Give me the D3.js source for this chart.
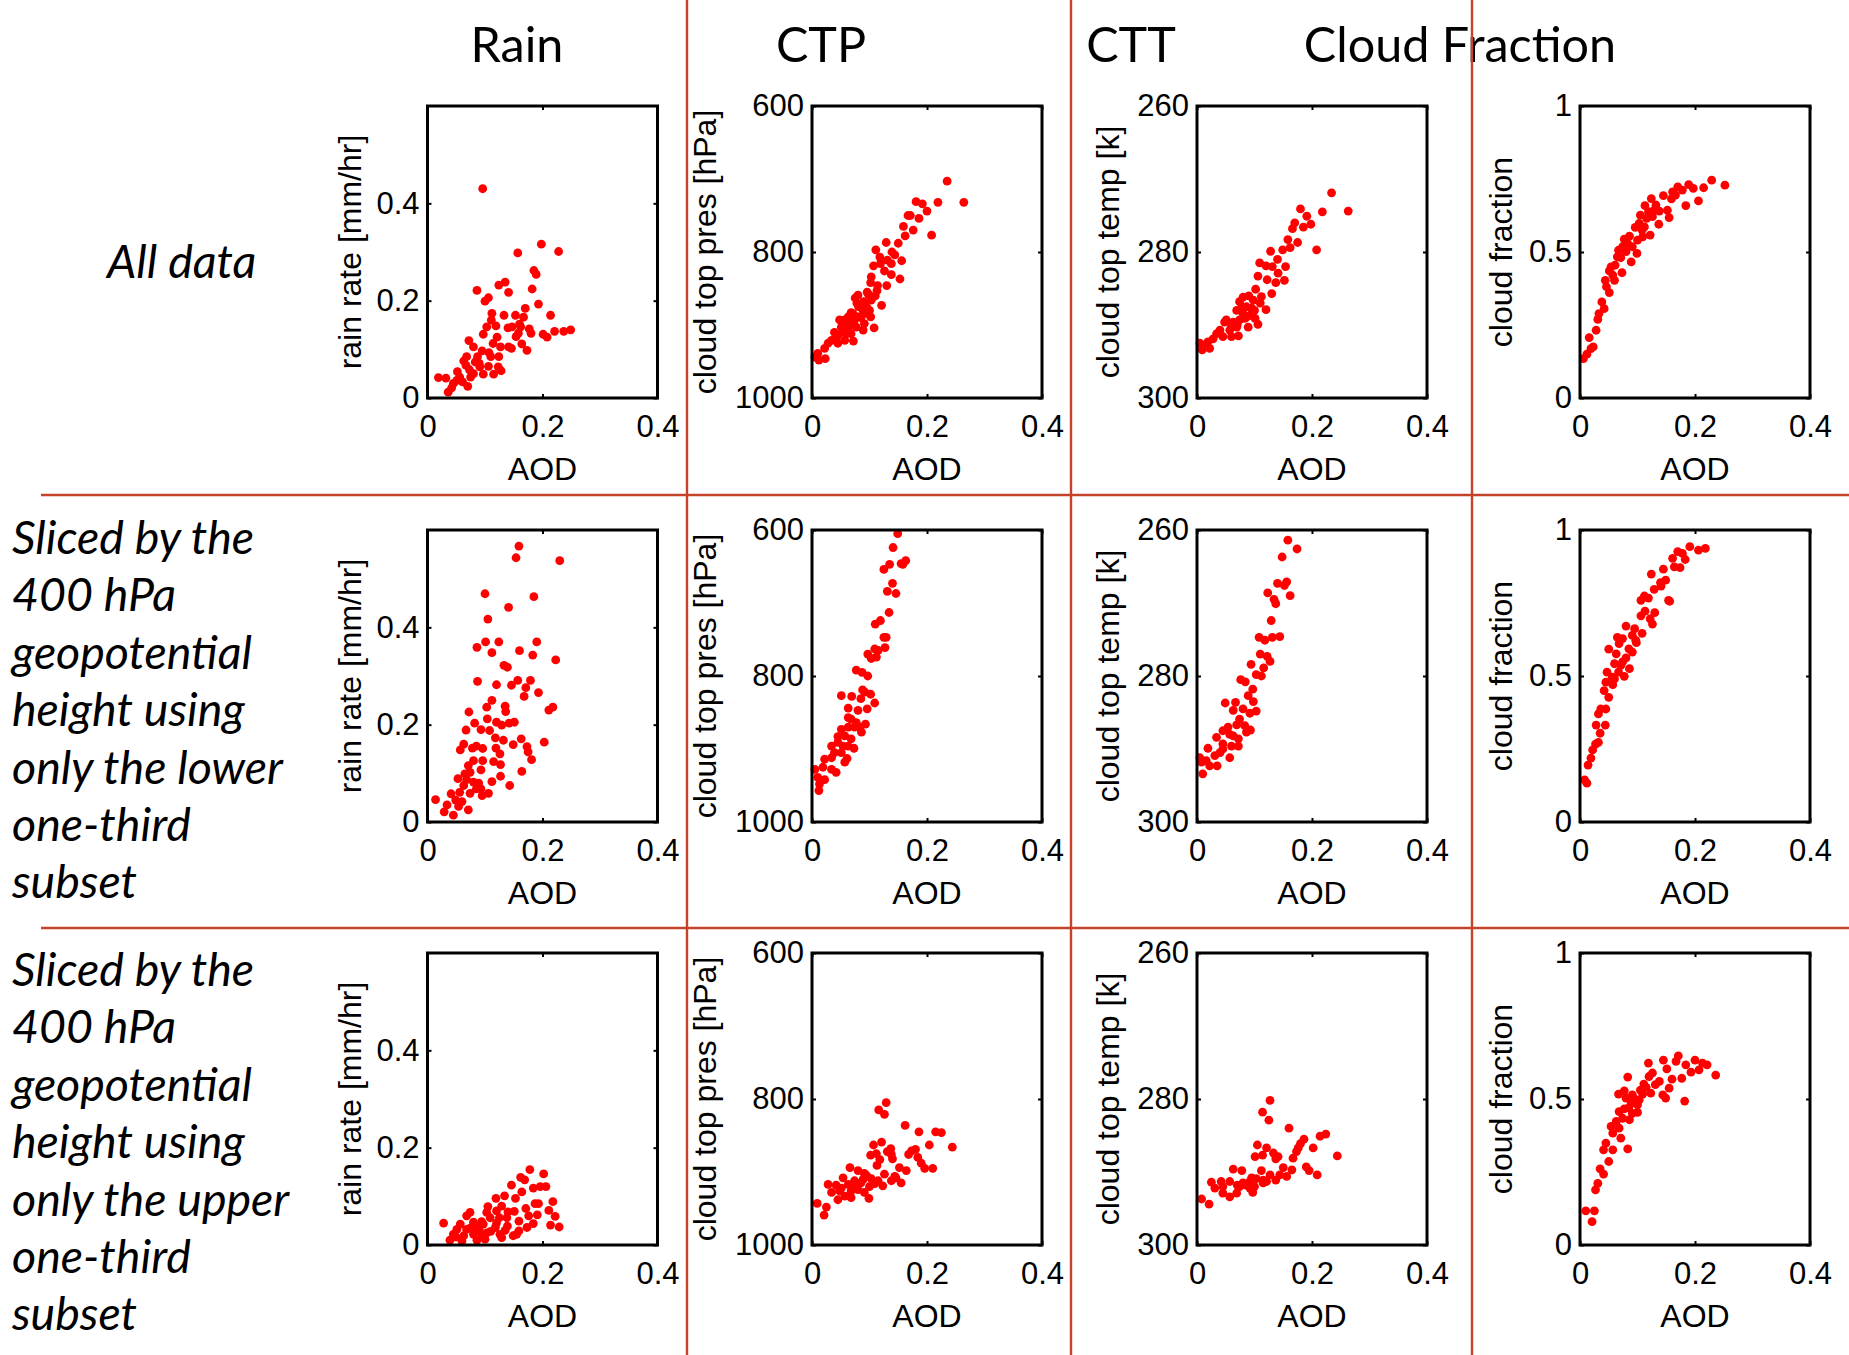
<!DOCTYPE html>
<html><head><meta charset="utf-8">
<script src="https://cdn.jsdelivr.net/npm/d3@7"></script>
<style>body{margin:0;background:#fff}svg{display:block}</style>
</head><body>
<script>
// ---- values: [AOD, variable] pairs for each subset and variable ----
const rainAll = [[0.096,0.430],[0.198,0.316],[0.228,0.301],[0.157,0.298],[0.185,0.262],[0.189,0.254],[0.086,0.221],[0.124,0.232],[0.135,0.238],[0.141,0.217],[0.182,0.224],[0.100,0.199],[0.106,0.206],[0.193,0.193],[0.112,0.174],[0.133,0.170],[0.153,0.170],[0.170,0.184],[0.167,0.166],[0.214,0.170],[0.111,0.160],[0.160,0.152],[0.103,0.146],[0.119,0.148],[0.140,0.144],[0.147,0.146],[0.162,0.146],[0.177,0.142],[0.180,0.133],[0.201,0.131],[0.208,0.125],[0.221,0.137],[0.237,0.137],[0.249,0.140],[0.097,0.131],[0.121,0.125],[0.154,0.126],[0.158,0.133],[0.072,0.118],[0.080,0.105],[0.114,0.112],[0.127,0.105],[0.141,0.105],[0.146,0.102],[0.164,0.111],[0.173,0.098],[0.095,0.097],[0.107,0.093],[0.068,0.085],[0.087,0.085],[0.110,0.085],[0.124,0.085],[0.063,0.076],[0.083,0.074],[0.091,0.064],[0.106,0.065],[0.123,0.064],[0.128,0.056],[0.052,0.054],[0.073,0.058],[0.080,0.050],[0.097,0.049],[0.115,0.049],[0.019,0.042],[0.032,0.041],[0.056,0.043],[0.075,0.043],[0.061,0.033],[0.045,0.030],[0.070,0.024],[0.042,0.021],[0.036,0.012],[0.090,0.071],[0.067,0.067],[0.051,0.036]];
const ctpAll = [[0.235,703],[0.264,732],[0.181,731],[0.192,734],[0.219,732],[0.200,744],[0.167,750],[0.171,750],[0.186,754],[0.159,765],[0.176,770],[0.162,778],[0.208,777],[0.129,787],[0.150,788],[0.111,797],[0.139,800],[0.118,807],[0.144,804],[0.131,811],[0.156,812],[0.119,816],[0.138,816],[0.107,819],[0.126,826],[0.138,831],[0.153,837],[0.103,834],[0.102,842],[0.130,846],[0.114,846],[0.113,853],[0.096,855],[0.080,859],[0.075,863],[0.103,866],[0.121,873],[0.090,868],[0.081,875],[0.068,883],[0.089,880],[0.102,889],[0.057,893],[0.074,893],[0.108,904],[0.089,907],[0.051,903],[0.063,903],[0.039,910],[0.045,914],[0.034,921],[0.057,921],[0.072,922],[0.028,925],[0.022,932],[0.045,925],[0.010,939],[0.005,944],[0.012,948],[0.023,946],[0.065,897],[0.080,889],[0.060,912],[0.071,884],[0.086,873],[0.094,884],[0.054,910],[0.042,919],[0.077,903],[0.063,889],[0.091,898],[0.068,912],[0.048,893],[0.085,890],[0.095,875],[0.070,895],[0.100,880],[0.078,870],[0.060,900],[0.110,860],[0.098,858]];
const cttAll = [[0.234,271.9],[0.263,274.4],[0.180,274.1],[0.218,274.5],[0.191,275.1],[0.198,276.2],[0.170,276.0],[0.166,276.8],[0.185,276.6],[0.158,278.3],[0.175,278.7],[0.162,279.4],[0.149,279.7],[0.208,279.7],[0.128,279.9],[0.140,281.0],[0.109,281.5],[0.120,281.9],[0.131,282.0],[0.154,282.0],[0.141,282.9],[0.106,283.3],[0.122,283.8],[0.137,284.2],[0.152,283.9],[0.102,285.1],[0.130,285.7],[0.112,286.1],[0.080,286.2],[0.074,286.8],[0.098,286.6],[0.120,287.9],[0.086,287.5],[0.069,288.0],[0.092,288.7],[0.101,289.1],[0.106,289.9],[0.051,289.3],[0.063,289.6],[0.074,289.3],[0.089,290.3],[0.040,290.7],[0.057,290.7],[0.045,291.6],[0.072,291.5],[0.028,291.9],[0.034,291.2],[0.019,292.3],[0.010,292.8],[0.005,292.5],[0.009,293.4],[0.022,293.2],[0.080,288.4],[0.083,289.1],[0.060,291.6],[0.069,290.3],[0.095,287.7],[0.048,289.6],[0.085,289.0],[0.095,288.5],[0.070,290.0],[0.100,288.0],[0.078,287.5],[0.060,290.2],[0.110,287.0],[0.090,286.0]];
const cfAll = [[0.229,0.746],[0.252,0.729],[0.189,0.731],[0.197,0.718],[0.215,0.720],[0.170,0.723],[0.178,0.712],[0.159,0.682],[0.166,0.695],[0.145,0.693],[0.184,0.659],[0.206,0.675],[0.124,0.683],[0.113,0.659],[0.132,0.661],[0.105,0.626],[0.119,0.638],[0.138,0.640],[0.152,0.643],[0.155,0.618],[0.116,0.615],[0.126,0.621],[0.137,0.595],[0.096,0.584],[0.108,0.575],[0.122,0.558],[0.077,0.544],[0.086,0.554],[0.100,0.541],[0.109,0.552],[0.067,0.506],[0.080,0.501],[0.091,0.518],[0.099,0.495],[0.071,0.481],[0.089,0.466],[0.061,0.455],[0.073,0.429],[0.051,0.435],[0.057,0.421],[0.044,0.403],[0.060,0.403],[0.046,0.381],[0.051,0.361],[0.038,0.329],[0.042,0.306],[0.033,0.289],[0.031,0.269],[0.028,0.232],[0.016,0.207],[0.023,0.175],[0.019,0.169],[0.012,0.150],[0.006,0.135],[0.083,0.529],[0.074,0.518],[0.065,0.483],[0.054,0.449],[0.103,0.598],[0.129,0.643],[0.161,0.706],[0.112,0.586]];

const rainLow = [[0.159,0.567],[0.154,0.543],[0.230,0.537],[0.100,0.469],[0.185,0.463],[0.141,0.441],[0.105,0.417],[0.101,0.370],[0.124,0.370],[0.190,0.370],[0.086,0.359],[0.112,0.348],[0.160,0.352],[0.183,0.343],[0.223,0.333],[0.133,0.322],[0.139,0.318],[0.087,0.289],[0.120,0.282],[0.146,0.281],[0.157,0.291],[0.179,0.291],[0.171,0.276],[0.193,0.266],[0.168,0.258],[0.112,0.250],[0.103,0.236],[0.135,0.238],[0.136,0.227],[0.211,0.230],[0.218,0.236],[0.072,0.226],[0.082,0.203],[0.104,0.212],[0.120,0.205],[0.129,0.199],[0.142,0.203],[0.151,0.205],[0.067,0.189],[0.093,0.190],[0.108,0.188],[0.118,0.173],[0.132,0.168],[0.163,0.171],[0.203,0.164],[0.063,0.160],[0.057,0.148],[0.078,0.152],[0.085,0.156],[0.096,0.151],[0.119,0.152],[0.149,0.159],[0.173,0.155],[0.175,0.144],[0.126,0.140],[0.181,0.128],[0.071,0.116],[0.080,0.126],[0.096,0.126],[0.115,0.124],[0.127,0.118],[0.093,0.107],[0.074,0.102],[0.053,0.089],[0.068,0.087],[0.080,0.082],[0.089,0.080],[0.112,0.083],[0.127,0.094],[0.164,0.104],[0.143,0.075],[0.063,0.075],[0.093,0.068],[0.106,0.059],[0.095,0.054],[0.041,0.058],[0.056,0.061],[0.074,0.059],[0.014,0.046],[0.049,0.045],[0.060,0.042],[0.034,0.035],[0.054,0.032],[0.071,0.025],[0.029,0.021],[0.045,0.014],[0.065,0.099],[0.085,0.068]];
const ctpLow = [[0.149,605],[0.141,624],[0.135,647],[0.125,654],[0.155,646],[0.163,642],[0.158,647],[0.140,673],[0.131,684],[0.146,687],[0.134,713],[0.119,724],[0.110,729],[0.125,747],[0.129,747],[0.109,763],[0.127,761],[0.115,765],[0.097,770],[0.103,776],[0.112,774],[0.077,792],[0.087,795],[0.097,800],[0.088,819],[0.092,822],[0.102,825],[0.051,827],[0.069,828],[0.085,831],[0.109,837],[0.063,844],[0.096,845],[0.080,847],[0.068,859],[0.077,864],[0.093,866],[0.051,873],[0.063,870],[0.074,870],[0.086,877],[0.045,883],[0.057,882],[0.068,886],[0.034,896],[0.045,891],[0.063,896],[0.073,899],[0.039,905],[0.051,905],[0.061,913],[0.022,914],[0.034,912],[0.057,918],[0.019,925],[0.034,928],[0.042,932],[0.005,928],[0.010,939],[0.022,942],[0.013,948],[0.012,957],[0.063,857],[0.054,896],[0.083,870]];
const cttLow = [[0.158,261.4],[0.174,262.6],[0.148,263.7],[0.140,267.3],[0.156,267.1],[0.152,267.6],[0.123,268.6],[0.162,269.0],[0.134,269.5],[0.137,270.1],[0.129,272.4],[0.108,274.7],[0.118,275.1],[0.131,274.7],[0.144,274.6],[0.110,277.0],[0.122,277.3],[0.127,278.0],[0.094,278.4],[0.116,278.9],[0.103,279.8],[0.112,280.0],[0.076,280.5],[0.084,280.8],[0.097,281.8],[0.089,282.7],[0.098,283.5],[0.049,283.7],[0.067,283.6],[0.063,284.7],[0.080,284.5],[0.103,284.8],[0.092,285.1],[0.074,285.9],[0.054,287.0],[0.069,286.7],[0.083,286.8],[0.093,287.4],[0.045,287.5],[0.057,288.0],[0.034,288.4],[0.072,288.6],[0.045,289.3],[0.060,289.6],[0.019,289.9],[0.040,290.5],[0.072,289.6],[0.031,290.9],[0.057,291.2],[0.005,291.2],[0.016,291.6],[0.035,292.3],[0.022,292.3],[0.008,291.8],[0.010,293.4],[0.045,290.0],[0.063,288.2],[0.086,287.7]];
const cfLow = [[0.191,0.943],[0.206,0.931],[0.218,0.937],[0.170,0.926],[0.178,0.920],[0.183,0.899],[0.161,0.903],[0.164,0.874],[0.174,0.871],[0.145,0.866],[0.124,0.849],[0.149,0.828],[0.140,0.820],[0.141,0.808],[0.129,0.797],[0.106,0.759],[0.112,0.774],[0.119,0.767],[0.154,0.759],[0.156,0.756],[0.106,0.706],[0.113,0.722],[0.130,0.717],[0.122,0.696],[0.126,0.678],[0.080,0.671],[0.095,0.662],[0.091,0.639],[0.108,0.646],[0.065,0.632],[0.074,0.628],[0.098,0.614],[0.050,0.592],[0.068,0.611],[0.085,0.593],[0.091,0.582],[0.063,0.576],[0.080,0.562],[0.074,0.548],[0.060,0.542],[0.086,0.525],[0.047,0.513],[0.067,0.513],[0.056,0.496],[0.077,0.499],[0.045,0.479],[0.057,0.470],[0.042,0.450],[0.050,0.427],[0.036,0.387],[0.045,0.387],[0.032,0.370],[0.028,0.332],[0.044,0.332],[0.035,0.304],[0.027,0.267],[0.032,0.273],[0.022,0.247],[0.019,0.219],[0.014,0.195],[0.008,0.144],[0.012,0.133],[0.071,0.536],[0.060,0.490],[0.097,0.622]];

const rainUp = [[0.178,0.155],[0.202,0.146],[0.162,0.139],[0.169,0.134],[0.146,0.123],[0.184,0.117],[0.196,0.120],[0.206,0.120],[0.164,0.109],[0.134,0.101],[0.119,0.096],[0.153,0.096],[0.187,0.085],[0.193,0.085],[0.218,0.089],[0.105,0.079],[0.129,0.080],[0.171,0.075],[0.211,0.071],[0.074,0.067],[0.068,0.060],[0.103,0.067],[0.120,0.070],[0.140,0.068],[0.151,0.069],[0.176,0.060],[0.191,0.062],[0.222,0.059],[0.080,0.047],[0.109,0.056],[0.125,0.056],[0.138,0.056],[0.159,0.049],[0.184,0.044],[0.214,0.041],[0.229,0.037],[0.028,0.045],[0.057,0.043],[0.094,0.048],[0.051,0.032],[0.068,0.032],[0.086,0.036],[0.118,0.036],[0.139,0.039],[0.159,0.029],[0.173,0.036],[0.045,0.022],[0.063,0.019],[0.080,0.022],[0.103,0.025],[0.126,0.022],[0.155,0.022],[0.149,0.019],[0.039,0.010],[0.060,0.008],[0.086,0.010],[0.100,0.012],[0.129,0.015],[0.050,0.016],[0.097,0.043],[0.090,0.030],[0.110,0.028],[0.075,0.035],[0.120,0.045],[0.095,0.020],[0.135,0.030]];
const ctpUp = [[0.129,805],[0.116,815],[0.126,821],[0.162,836],[0.186,845],[0.215,845],[0.225,846],[0.204,863],[0.244,866],[0.121,859],[0.107,863],[0.137,868],[0.102,877],[0.112,875],[0.131,872],[0.173,871],[0.180,869],[0.168,876],[0.184,880],[0.140,882],[0.190,888],[0.196,895],[0.210,895],[0.113,891],[0.091,902],[0.066,894],[0.080,898],[0.152,894],[0.164,898],[0.126,903],[0.144,906],[0.103,909],[0.054,908],[0.028,917],[0.042,918],[0.074,912],[0.089,910],[0.063,917],[0.109,916],[0.123,919],[0.138,912],[0.155,915],[0.146,908],[0.034,928],[0.048,926],[0.068,926],[0.080,924],[0.091,928],[0.057,933],[0.045,938],[0.068,935],[0.099,936],[0.009,943],[0.025,948],[0.021,959],[0.074,919],[0.051,922],[0.138,876],[0.118,883],[0.085,915],[0.100,920],[0.070,922],[0.115,912],[0.095,905]];
const cttUp = [[0.127,280.2],[0.114,281.8],[0.125,282.9],[0.160,284.0],[0.186,285.5],[0.180,286.1],[0.214,285.1],[0.224,284.8],[0.176,286.7],[0.202,286.7],[0.244,287.8],[0.105,286.3],[0.121,286.7],[0.101,287.9],[0.114,287.7],[0.133,287.4],[0.141,287.9],[0.173,287.2],[0.167,288.1],[0.137,288.2],[0.190,289.3],[0.195,289.8],[0.209,290.4],[0.150,289.4],[0.165,289.7],[0.112,289.8],[0.063,289.6],[0.078,289.8],[0.127,290.4],[0.156,290.6],[0.137,291.1],[0.103,290.9],[0.025,291.4],[0.042,291.3],[0.057,291.3],[0.092,291.3],[0.121,291.3],[0.074,292.0],[0.092,292.2],[0.097,292.8],[0.045,292.9],[0.057,293.4],[0.069,292.9],[0.031,292.2],[0.008,293.7],[0.021,294.4],[0.080,291.5],[0.045,292.0],[0.144,290.4],[0.115,291.1],[0.085,291.8],[0.100,292.0],[0.070,291.8],[0.115,291.5],[0.095,290.8]];
const cfUp = [[0.171,0.648],[0.145,0.633],[0.119,0.623],[0.167,0.629],[0.200,0.633],[0.184,0.617],[0.213,0.623],[0.221,0.617],[0.151,0.603],[0.193,0.592],[0.207,0.600],[0.236,0.582],[0.126,0.589],[0.120,0.577],[0.083,0.575],[0.177,0.571],[0.160,0.568],[0.138,0.560],[0.155,0.537],[0.131,0.549],[0.111,0.551],[0.077,0.528],[0.067,0.517],[0.091,0.514],[0.109,0.517],[0.123,0.520],[0.144,0.514],[0.149,0.503],[0.182,0.493],[0.089,0.486],[0.100,0.480],[0.077,0.466],[0.091,0.451],[0.074,0.434],[0.086,0.429],[0.100,0.454],[0.054,0.406],[0.068,0.400],[0.071,0.366],[0.057,0.383],[0.045,0.349],[0.041,0.326],[0.057,0.326],[0.083,0.329],[0.050,0.286],[0.035,0.261],[0.041,0.243],[0.031,0.211],[0.027,0.189],[0.010,0.117],[0.025,0.117],[0.021,0.080],[0.080,0.503],[0.068,0.457],[0.063,0.423],[0.103,0.497],[0.095,0.500],[0.105,0.530],[0.085,0.470],[0.115,0.540]];

// ---- labels, domains and ticks ----
const colTitles = ["Rain", "CTP", "CTT", "Cloud Fraction"];
const yLabels = ["rain rate [mm/hr]", "cloud top pres [hPa]", "cloud top temp [k]", "cloud fraction"];
const yDomains = [[0, 0.6], [600, 1000], [260, 300], [0, 1]];
const yDownward = [false, true, true, false]; // pressure and temperature grow downward
const yTicks = [[0, 0.2, 0.4], [600, 800, 1000], [260, 280, 300], [0, 0.5, 1]];
const xDomain = [0, 0.4];
const xTicks = [0, 0.2, 0.4];
const xLabel = "AOD";
const rowLabels = [
  ["All data"],
  ["Sliced by the", "400 hPa", "geopotential", "height using", "only the lower", "one-third", "subset"],
  ["Sliced by the", "400 hPa", "geopotential", "height using", "only the upper", "one-third", "subset"]
];
const series = [
  [rainAll, ctpAll, cttAll, cfAll],
  [rainLow, ctpLow, cttLow, cfLow],
  [rainUp, ctpUp, cttUp, cfUp]
];

// ---- layout ----
const W = 1849, H = 1355;
const colLeft = [427.5, 812, 1197, 1580];
const rowTop = [106, 530, 953];
const plotW = 230, plotH = 292;
const yLabelOffset = [78, 107, 89, 79];
const titleCenter = [517, 821, 1131, 1460];
const titleBase = 62;
const sepX = [687, 1071, 1472];
const sepY = [495, 928];
const sepColor = "#c5432a";
const dotColor = "#ff0000";
const axisFont = "'Liberation Sans', Arial, Helvetica, sans-serif";
const textFont = "Lato, 'Open Sans', sans-serif";

const svg = d3.select("body").append("svg").attr("width", W).attr("height", H)
  .style("background", "#fff");

// column titles
svg.append("g").selectAll("text").data(colTitles).join("text")
  .attr("x", (d, i) => titleCenter[i]).attr("y", titleBase)
  .attr("text-anchor", "middle")
  .attr("font-family", textFont).attr("font-size", 48.5).attr("fill", "#000")
  .text(d => d);

// row descriptions
const rowBase = [278, 554, 986];
const rowX = [107, 12, 12];
rowLabels.forEach((lines, r) => {
  svg.append("text")
    .attr("font-family", textFont).attr("font-style", "italic")
    .attr("font-size", 46.5).attr("fill", "#000")
    .selectAll("tspan").data(lines).join("tspan")
    .attr("x", rowX[r]).attr("y", (d, k) => rowBase[r] + k * 57.4)
    .text(d => d);
});

const x = d3.scaleLinear().domain(xDomain).range([0, plotW]);

series.forEach((rowSeries, r) => {
  rowSeries.forEach((pts, c) => {
    const y = d3.scaleLinear().domain(yDomains[c])
      .range(yDownward[c] ? [0, plotH] : [plotH, 0]);
    const g = svg.append("g").attr("transform", `translate(${colLeft[c]},${rowTop[r]})`);

    // points
    g.append("g").selectAll("circle").data(pts).join("circle")
      .attr("cx", d => x(d[0])).attr("cy", d => y(d[1]))
      .attr("r", 4.4).attr("fill", dotColor);

    // axes with inward ticks
    const fmt = d => String(d);
    const styleAxis = sel => {
      sel.select(".domain").remove();
      sel.selectAll(".tick line").attr("stroke", "#000").attr("stroke-width", 2);
      sel.selectAll(".tick text").attr("font-family", axisFont).attr("font-size", 31).attr("fill", "#000");
    };
    g.append("g").attr("transform", `translate(0,${plotH})`)
      .call(d3.axisBottom(x).tickValues(xTicks).tickFormat(fmt).tickSizeInner(-4).tickSizeOuter(0).tickPadding(17))
      .call(styleAxis);
    g.append("g")
      .call(d3.axisTop(x).tickValues(xTicks).tickFormat("").tickSizeInner(-4).tickSizeOuter(0))
      .call(styleAxis);
    g.append("g")
      .call(d3.axisLeft(y).tickValues(yTicks[c]).tickFormat(fmt).tickSizeInner(-4).tickSizeOuter(0).tickPadding(8))
      .call(styleAxis);
    g.append("g").attr("transform", `translate(${plotW},0)`)
      .call(d3.axisRight(y).tickValues(yTicks[c]).tickFormat("").tickSizeInner(-4).tickSizeOuter(0))
      .call(styleAxis);

    // frame
    g.append("rect").attr("width", plotW).attr("height", plotH)
      .attr("fill", "none").attr("stroke", "#000").attr("stroke-width", 3);

    // axis titles
    g.append("text").attr("x", plotW / 2).attr("y", plotH + 82)
      .attr("text-anchor", "middle").attr("font-family", axisFont)
      .attr("font-size", 32).attr("fill", "#000").text(xLabel);
    g.append("text")
      .attr("transform", `translate(${-yLabelOffset[c]},${plotH / 2}) rotate(-90)`)
      .attr("text-anchor", "middle").attr("dy", "0.35em")
      .attr("font-family", axisFont).attr("font-size", 32).attr("fill", "#000")
      .text(yLabels[c]);
  });
});

// separators between panels
svg.append("g").selectAll("line.v").data(sepX).join("line")
  .attr("x1", d => d).attr("x2", d => d).attr("y1", 0).attr("y2", H)
  .attr("stroke", sepColor).attr("stroke-width", 2.4);
svg.append("g").selectAll("line.h").data(sepY).join("line")
  .attr("x1", 41).attr("x2", W).attr("y1", d => d).attr("y2", d => d)
  .attr("stroke", sepColor).attr("stroke-width", 2.4);
</script>
</body></html>
